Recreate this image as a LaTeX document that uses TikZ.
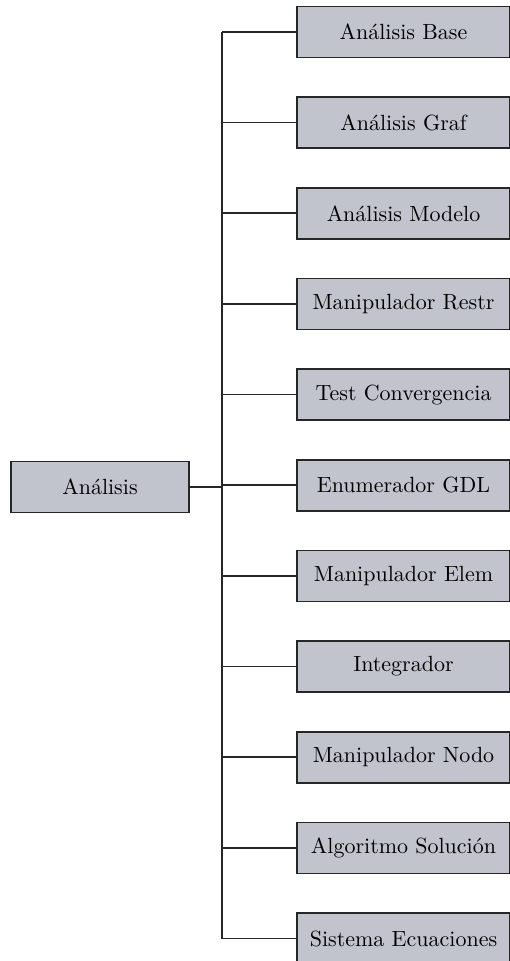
\documentclass[tikz,border=0pt]{standalone}
\usepackage{fontspec}
\usepackage{tikz}

\definecolor{boxgray}{RGB}{193,196,205}

\tikzset{
    modulo/.style={draw=black!85, fill=boxgray, line width=0.75pt, inner sep=0pt,
        minimum width=97pt, minimum height=23.2pt},
    enlace/.style={draw=black!85, line width=0.75pt}
}

\begin{document}
\begin{tikzpicture}[x=0.455pt, y=-0.455pt]

    % Set spacing of the module column
    \pgfmathsetmacro{\paso}{90.65}
    \pgfmathsetmacro{\tronco}{222}

    % Fix picture size
    \useasboundingbox (0,0) rectangle (509,961);

    % Draw main box
    \node[modulo, minimum width=81pt] (analisis) at (100,487) {Análisis};

    % Draw module boxes
    \foreach \nombre [count=\i] in {Análisis Base, Análisis Graf, Análisis Modelo,
        Manipulador Restr, Test Convergencia, Enumerador GDL, Manipulador Elem,
        Integrador, Manipulador Nodo, Algoritmo Solución, Sistema Ecuaciones}
    {
        \node[modulo] (m\i) at (403.5, {32 + (\i-1)*\paso}) {\nombre};
    }

    % Draw trunk
    \coordinate (t) at (\tronco,487);
    \draw[enlace] (t |- m1.west) -- (t |- m11.west);
    \draw[enlace] (analisis.east) -- (t);

    % Draw branches to the modules
    \foreach \i in {1,...,11}
    {
        \draw[enlace] (t |- m\i.west) -- (m\i.west);
    }

\end{tikzpicture}
\end{document}
